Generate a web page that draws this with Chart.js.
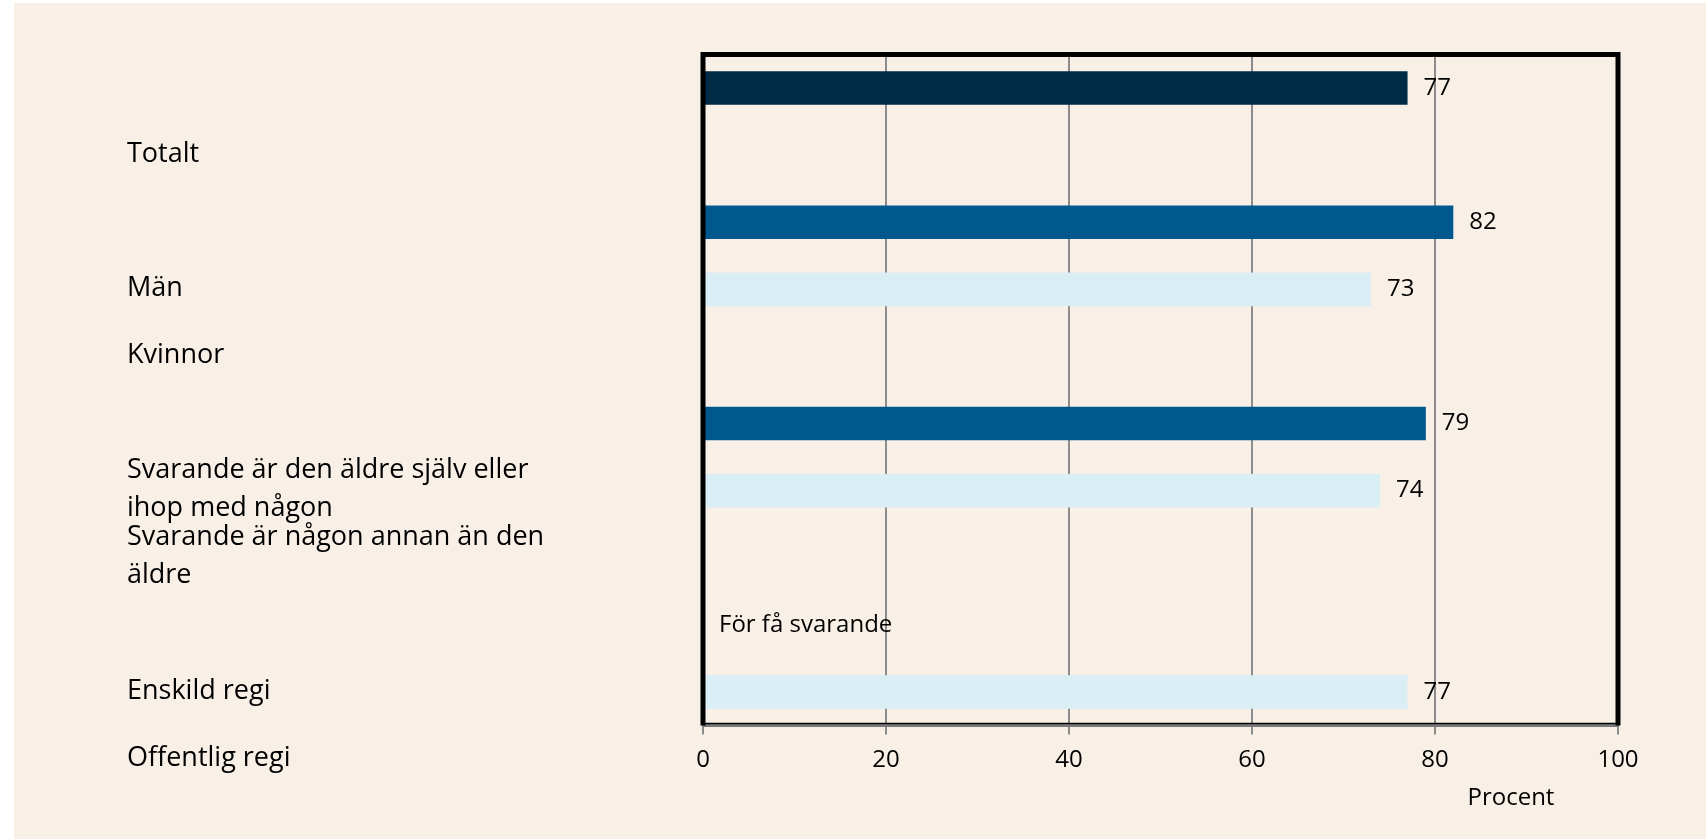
<!DOCTYPE html>
<html lang="sv">
<head>
<meta charset="utf-8">
<title>Andel nöjda</title>
<script src="https://cdn.jsdelivr.net/npm/chart.js@4.4.1/dist/chart.umd.min.js"></script>
<style>
	html, body { margin: 0; padding: 0; background: #fff; }
	#ram { position: absolute; left: 14px; top: 3px; width: 1692px; height: 836px; background: #F8F0E6; }
	#grafico { display: block; }
</style>
</head>
<body>
<div id="ram">
	<canvas id="grafico" width="1692" height="836"></canvas>
</div>
<script>
var kategorier = [
	'Totalt',
	'',
	'Män',
	'Kvinnor',
	'',
	['Svarande är den äldre själv eller', 'ihop med någon'],
	['Svarande är någon annan än den', 'äldre'],
	'',
	'Enskild regi',
	'Offentlig regi'
];
var andelar = [77, null, 82, 73, null, 79, 74, null, null, 77];
var anmarkningar = ['', '', '', '', '', '', '', '', 'För få svarande', ''];
var procentSteg = [0, 20, 40, 60, 80, 100];
var axelTitel = 'Procent';

var MORK = '#002B45';
var BLA = '#00588F';
var LJUS = '#DAEEF5';

Chart.defaults.font.family = '"Open Sans", sans-serif';
Chart.defaults.color = '#000';

// tjock svart ram runt diagramytan, som i originalet
var ramPlugin = {
	id: 'ramPlugin',
	afterDatasetsDraw: function(chart) {
		var ctx = chart.ctx;
		var a = chart.chartArea;
		ctx.save();
		ctx.strokeStyle = '#000';
		ctx.lineWidth = 5;
		ctx.beginPath();
		ctx.moveTo(a.left, a.bottom);
		ctx.lineTo(a.left, a.top);
		ctx.lineTo(a.right, a.top);
		ctx.lineTo(a.right, a.bottom);
		ctx.stroke();
		ctx.lineWidth = 1.5;
		ctx.beginPath();
		ctx.moveTo(a.left, a.bottom - 2);
		ctx.lineTo(a.right, a.bottom - 2);
		ctx.stroke();
		ctx.restore();
	}
};

var etikettPlugin = {
	id: 'etikettPlugin',
	afterDatasetsDraw: function(chart) {
		var ctx = chart.ctx;
		var x = chart.scales.x;
		var y = chart.scales.y;
		ctx.save();
		ctx.font = '24px "Open Sans"';
		ctx.fillStyle = '#000';
		ctx.textAlign = 'left';
		ctx.textBaseline = 'middle';
		andelar.forEach(function(v, i) {
			var py = y.getPixelForValue(i);
			if (v !== null) {
				ctx.fillText(String(v), x.getPixelForValue(v) + 16, py);
			} else if (anmarkningar[i]) {
				ctx.fillText(anmarkningar[i], x.getPixelForValue(0) + 16, py);
			}
		});
		ctx.textAlign = 'center';
		ctx.fillText(axelTitel, x.getPixelForValue(88.3), x.bottom - 41);
		ctx.restore();
	}
};

var grafico = new Chart(document.getElementById('grafico').getContext('2d'), {
	type: 'bar',
	data: {
		labels: kategorier,
		datasets: [{
			data: andelar,
			backgroundColor: [MORK, MORK, BLA, LJUS, BLA, BLA, LJUS, BLA, BLA, LJUS],
			borderWidth: 0,
			barPercentage: 0.5,
			categoryPercentage: 1
		}]
	},
	options: {
		indexAxis: 'y',
		responsive: false,
		animation: false,
		layout: {
			padding: { left: 113, right: 88, top: 51.5, bottom: 0 }
		},
		plugins: {
			legend: { display: false },
			title: { display: false },
			tooltip: { enabled: false }
		},
		scales: {
			x: {
				min: procentSteg[0],
				max: procentSteg[procentSteg.length - 1],
				afterFit: function(scale) { scale.height = 113.5; },
				afterBuildTicks: function(scale) {
					scale.ticks = procentSteg.map(function(v) { return { value: v }; });
				},
				grid: {
					color: '#8C8C8C',
					lineWidth: 2,
					tickLength: 9,
					tickColor: '#8C8C8C'
				},
				border: { color: '#7A7A7A', width: 3 },
				ticks: {
					font: { size: 24 },
					padding: 11,
					maxRotation: 0
				}
			},
			y: {
				afterFit: function(scale) { scale.width = 576; },
				grid: { display: false, drawTicks: false },
				border: { display: false },
				ticks: {
					autoSkip: false,
					crossAlign: 'far',
					labelOffset: 66,
					padding: 0,
					font: { size: 27, lineHeight: 1.41 }
				}
			}
		}
	},
	plugins: [ramPlugin, etikettPlugin]
});
</script>
</body>
</html>
